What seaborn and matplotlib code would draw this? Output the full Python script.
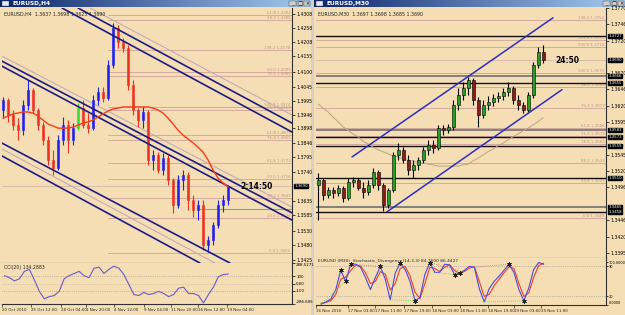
import numpy as np
import matplotlib
matplotlib.use("Agg")
import matplotlib.pyplot as plt
import matplotlib.transforms as mtransforms
from matplotlib.patches import Rectangle
from matplotlib.colors import LinearSegmentedColormap
import seaborn as sns

# ---------------- left window: EURUSD,H4 ----------------
left_open0 = 1.3963
left_close = [1.3999, 1.3945, 1.3909, 1.3891, 1.3981, 1.4035, 1.3963, 1.3909, 1.3855, 1.3784,
              1.3755, 1.3855, 1.3909, 1.3855, 1.3898, 1.3970, 1.3909, 1.3898, 1.3999, 1.4028,
              1.4006, 1.4124, 1.4257, 1.4207, 1.4185, 1.4053, 1.3963, 1.3927, 1.3956, 1.3784,
              1.3802, 1.3748, 1.3791, 1.3712, 1.3622, 1.3712, 1.3730, 1.3640, 1.3604, 1.3622,
              1.3479, 1.3497, 1.3551, 1.3622, 1.3640, 1.3690]
left_high = [1.4010, 1.4006, 1.3963, 1.3934, 1.3999, 1.4071, 1.4042, 1.3970, 1.3920, 1.3870,
             1.3820, 1.3873, 1.3938, 1.3927, 1.3916, 1.3988, 1.3999, 1.3952, 1.4017, 1.4046,
             1.4046, 1.4142, 1.4275, 1.4268, 1.4221, 1.4196, 1.4071, 1.3970, 1.3974, 1.3963,
             1.3820, 1.3812, 1.3809, 1.3802, 1.3719, 1.3730, 1.3748, 1.3741, 1.3658, 1.3640,
             1.3640, 1.3511, 1.3561, 1.3640, 1.3658, 1.3694]
left_low = [1.3934, 1.3920, 1.3891, 1.3855, 1.3873, 1.3963, 1.3952, 1.3891, 1.3838, 1.3766,
            1.3730, 1.3748, 1.3838, 1.3809, 1.3838, 1.3891, 1.3898, 1.3881, 1.3891, 1.3981,
            1.3992, 1.3999, 1.4114, 1.4185, 1.4171, 1.4035, 1.3945, 1.3902, 1.3898, 1.3766,
            1.3748, 1.3737, 1.3730, 1.3694, 1.3594, 1.3612, 1.3676, 1.3604, 1.3579, 1.3568,
            1.3461, 1.3454, 1.3479, 1.3540, 1.3597, 1.3622]
left_green_bar = 15
left_ma = [1.3934, 1.3941, 1.3949, 1.3952, 1.3956, 1.3956, 1.3952, 1.3941, 1.3927, 1.3913,
           1.3906, 1.3898, 1.3898, 1.3898, 1.3902, 1.3909, 1.3916, 1.3920, 1.3927, 1.3938,
           1.3949, 1.3959, 1.3967, 1.3970, 1.3974, 1.3974, 1.3974, 1.3974, 1.3974, 1.3974,
           1.3970, 1.3963, 1.3952, 1.3934, 1.3913, 1.3891, 1.3873, 1.3859, 1.3845, 1.3830,
           1.3812, 1.3784, 1.3748, 1.3719, 1.3701, 1.3687]
left_cci = [111, 82, 38, 67, 171, 200, 53, -109, -213, -183,
            -168, -109, 67, 111, 141, 171, 111, 82, 215, 230,
            141, 200, 244, 215, 126, -12, -154, -168, -124, -154,
            -139, -109, -139, -183, -154, -65, -50, -139, -139, -168,
            -272, -154, -50, 97, 126, 134]
left_cci_last = 134.2883
left_cci_ticks = [288.5271, 100, 0, -100, -286.605]
left_cci_tick_labels = ["288.5271", "100", "0.00", "-100", "-286.605"]
left_time_pos = [-0.5, 5.4, 11.4, 16.4, 22, 28, 33.4, 39, 44.8]
left_time_labels = ["20 Oct 2010", "25 Oct 12:00", "28 Oct 04:00", "1 Nov 20:00", "4 Nov 12:00",
                    "9 Nov 04:00", "11 Nov 20:00", "16 Nov 12:00", "19 Nov 04:00"]
left_price_ticks = [1.4308, 1.4258, 1.4208, 1.4155, 1.4100, 1.4045, 1.3995, 1.3946, 1.3898,
                    1.3846, 1.3795, 1.3740, 1.3635, 1.3585, 1.3530, 1.3480, 1.3425]
left_fib_prices = [1.4304, 1.4286, 1.4178, 1.4099, 1.4085, 1.3974, 1.3963, 1.3873, 1.3855,
                   1.3773, 1.3716, 1.3647, 1.3576, 1.3450]
left_fib_names = ["61.8", "38.2", "138.2", "50.0", "76.4", "100.0", "38.2", "61.8", "76.4",
                  "61.8", "50.0", "38.2", "23.6", "0.0"]
left_fib_start = 21
# channel lines: (bar0, price0, bar1, price1)
left_channel_dark = [(15.0, 1.4329, 57.8, 1.3916), (11.8, 1.4329, 57.8, 1.3884),
                     (-0.6, 1.4142, 57.8, 1.3594), (-0.6, 1.4124, 57.8, 1.3568),
                     (-0.6, 1.3848, 45.4, 1.3414), (-0.6, 1.3802, 39.4, 1.3414)]
left_channel_pale = [(17.4, 1.4329, 57.8, 1.3945), (-0.6, 1.4160, 57.8, 1.3615),
                     (-0.6, 1.3827, 42.4, 1.3414)]
left_cyan_start, left_cyan_price = 39, 1.3608
left_bid = 1.3690
left_header = "EURUSD,H4  1.3637 1.3698 1.3625 1.3690"
left_timer = "2:14:50"

# ---------------- right window: EURUSD,M30 ----------------
right_open0 = 1.3499
right_close = [1.3507, 1.3484, 1.3491, 1.3487, 1.3494, 1.3479, 1.3504, 1.3507, 1.3494, 1.3488,
               1.3499, 1.3519, 1.3499, 1.3468, 1.3491, 1.3545, 1.3553, 1.3537, 1.3522, 1.3530,
               1.3537, 1.3553, 1.3560, 1.3556, 1.3586, 1.3583, 1.3588, 1.3622, 1.3637, 1.3648,
               1.3660, 1.3629, 1.3606, 1.3622, 1.3626, 1.3632, 1.3635, 1.3641, 1.3648, 1.3629,
               1.3622, 1.3614, 1.3637, 1.3683, 1.3703, 1.3690]
right_high = [1.3517, 1.3510, 1.3496, 1.3496, 1.3499, 1.3498, 1.3510, 1.3511, 1.3510, 1.3504,
              1.3507, 1.3525, 1.3522, 1.3502, 1.3494, 1.3550, 1.3563, 1.3557, 1.3545, 1.3537,
              1.3542, 1.3557, 1.3568, 1.3568, 1.3591, 1.3591, 1.3592, 1.3629, 1.3648, 1.3657,
              1.3664, 1.3663, 1.3634, 1.3629, 1.3635, 1.3638, 1.3641, 1.3648, 1.3657, 1.3651,
              1.3637, 1.3626, 1.3641, 1.3687, 1.3710, 1.3713]
right_low = [1.3445, 1.3476, 1.3479, 1.3479, 1.3482, 1.3473, 1.3476, 1.3496, 1.3491, 1.3479,
             1.3484, 1.3494, 1.3491, 1.3459, 1.3464, 1.3488, 1.3537, 1.3533, 1.3514, 1.3510,
             1.3522, 1.3533, 1.3545, 1.3548, 1.3553, 1.3576, 1.3579, 1.3583, 1.3614, 1.3629,
             1.3637, 1.3622, 1.3588, 1.3602, 1.3614, 1.3620, 1.3626, 1.3629, 1.3635, 1.3623,
             1.3614, 1.3609, 1.3611, 1.3632, 1.3678, 1.3686]
right_ma = [1.3623, 1.3617, 1.3611, 1.3603, 1.3596, 1.3588, 1.3583, 1.3577, 1.3573, 1.3566,
            1.3562, 1.3557, 1.3553, 1.3550, 1.3547, 1.3543, 1.3542, 1.3539, 1.3537, 1.3536,
            1.3534, 1.3533, 1.3531, 1.3530, 1.3528, 1.3528, 1.3528, 1.3528, 1.3528, 1.3530,
            1.3531, 1.3536, 1.3540, 1.3545, 1.3550, 1.3554, 1.3559, 1.3563, 1.3568, 1.3573,
            1.3577, 1.3582, 1.3586, 1.3591, 1.3596, 1.3602]
right_stoch_main = [2, 7, 14, 36, 81, 55, 95, 95, 88, 64, 36, 64, 90, 60, 12, 74, 98, 83, 55, 10,
                    17, 71, 99, 76, 76, 95, 93, 71, 74, 81, 90, 88, 38, 7, 38, 55, 67, 81, 95, 76,
                    36, 10, 40, 83, 99, 95]
right_stoch_signal = [4, 6, 10, 25, 60, 65, 80, 93, 91, 75, 50, 55, 78, 72, 35, 50, 85, 90, 68, 30,
                      15, 50, 88, 85, 78, 88, 94, 80, 74, 78, 86, 89, 55, 20, 25, 45, 60, 75, 89, 85,
                      50, 20, 28, 65, 92, 97]
right_stoch_ticks = [100, 90, 20, 0]
right_stoch_tick_labels = ["100.0000", "90", "20", "0.0000"]
stoch_mark_bar = [4, 5, 6, 12, 16, 19, 22, 27, 28, 38, 41]
stoch_mark_val = [81, 55, 95, 90, 98, 10, 99, 71, 74, 95, 10]
stoch_div_top = [((6, 95), (12, 90)), ((22, 99), (28, 80)), ((31, 88), (38, 95))]
stoch_div_bottom = [((0, 2), (5, 55)), ((14, 12), (19, 10)), ((33, 7), (41, 10)), ((23, 76), (27, 71))]
right_time_pos = [-1, 5.4, 11, 16.8, 22.4, 28, 33.8, 39, 44.4]
right_time_labels = ["16 Nov 2010", "17 Nov 03:00", "17 Nov 11:00", "17 Nov 19:00", "18 Nov 03:00",
                     "18 Nov 11:00", "18 Nov 19:00", "19 Nov 03:00", "19 Nov 11:00"]
right_price_ticks = [1.3770, 1.3746, 1.3720, 1.3670, 1.3646, 1.3620, 1.3595, 1.3545, 1.3520,
                     1.3496, 1.3446, 1.3420, 1.3395]
right_fib_prices = [1.3752, 1.3721, 1.3710, 1.3671, 1.3649, 1.3617, 1.3586, 1.3574, 1.3562,
                    1.3533, 1.3502, 1.3449]
right_fib_names = ["138.2", "123.6", "100.0", "100.0", "38.2", "76.4", "61.8", "71.6", "78.6",
                   "88.2", "23.6", "0.0"]
right_sr_prices = [1.3727, 1.3666, 1.3655, 1.3583, 1.3573, 1.3559, 1.3510, 1.3465, 1.3458]
right_sr_dark = [True, False, True, False, True, True, True, False, True]
right_channel = [(6.8, 1.3542, 47.0, 1.3755), (13.8, 1.3458, 48.8, 1.3645)]
right_bid = 1.3690
right_header = "EURUSD,M30  1.3697 1.3698 1.3685 1.3690"
right_timer = "24:50"
right_stoch_label = "EURUSD (M30)  Stochastic_Divergence(14,3,3) 84.7600 86.4427"

# ---------------- styling ----------------
WHEAT = "#F5DEB3"
FRAME = "#D4D0C8"
FIB = "#CFA29A"
FIBTXT = "#C4958C"
TICK_FS = 3.3

sns.set_style("white")
plt.rcParams['font.family'] = ['DejaVu Sans']

W, H = 625, 315
fig = plt.figure(figsize=(W / 100, H / 100), dpi=100)
fig.patch.set_facecolor(FRAME)


def px_axes(x0, y0, x1, y1):
    return fig.add_axes([x0 / W, 1 - y1 / H, (x1 - x0) / W, (y1 - y0) / H])


def px_rect(x0, y0, x1, y1, color, z=0):
    fig.add_artist(Rectangle((x0 / W, 1 - y1 / H), (x1 - x0) / W, (y1 - y0) / H,
                             transform=fig.transFigure, fc=color, ec='none', zorder=z))


def style(ax, xlim, ylim):
    ax.set_facecolor(WHEAT)
    ax.set_xlim(*xlim)
    ax.set_ylim(*ylim)
    for s in ['left', 'top']:
        ax.spines[s].set_visible(False)
    for s in ['right', 'bottom']:
        ax.spines[s].set_visible(True)
        ax.spines[s].set_color('#303030')
        ax.spines[s].set_linewidth(0.8)
    ax.yaxis.tick_right()
    ax.tick_params(axis='y', length=2, width=0.5, labelsize=TICK_FS, pad=1, colors='black')
    ax.tick_params(axis='x', bottom=False, labelbottom=False)
    ax.set_xlabel('')
    ax.set_ylabel('')


def title_bar(x0, x1, text):
    tax = px_axes(x0, 0, x1, 7)
    cmap = LinearSegmentedColormap.from_list('tb', ['#0A246A', '#A6CAF0'])
    tax.imshow(np.linspace(0, 1, 256)[None, :], aspect='auto', cmap=cmap, extent=(0, 1, 0, 1))
    tax.set_xlim(0, 1)
    tax.set_ylim(0, 1)
    tax.axis('off')
    tax.text(0.04, 0.5, text, color='white', fontsize=4.2, fontweight='bold', va='center', ha='left')
    tax.add_patch(Rectangle((0.008, 0.15), 0.022, 0.7, fc='#E8E8F0', ec='#404060', lw=0.3))
    w = (x1 - x0)
    for k, sym in enumerate(['_', '□', '×']):
        bx = 1 - (3 - k) * 7.2 / w
        tax.add_patch(Rectangle((bx, 0.08), 6.4 / w, 0.84, fc=FRAME, ec='#404040', lw=0.3))
        tax.text(bx + 3.2 / w, 0.5, sym, fontsize=3.5, ha='center', va='center', color='black')


def candles(ax, open0, close, high, low, up, down, wick=None, edge=None, width=0.6, special=None):
    close = np.asarray(close)
    opens = np.concatenate([[open0], close[:-1]])
    idx = np.arange(len(close))
    bull = close >= opens
    cols = np.where(bull, up, down).astype(object)
    if special is not None:
        cols[special[0]] = special[1]
    wick_cols = list(cols) if wick is None else wick
    ax.vlines(idx, low, high, colors=wick_cols, lw=0.8, zorder=3)
    bottoms = np.minimum(opens, close)
    heights = np.maximum(np.abs(close - opens), 0.00008)
    ax.bar(idx, heights, bottom=bottoms, width=width, color=list(cols),
           edgecolor=(edge if edge else list(cols)), linewidth=0.4, zorder=4)


def price_box(ax, price, text):
    tr = mtransforms.blended_transform_factory(ax.transAxes, ax.transData)
    ax.text(1.008, price, text, transform=tr, fontsize=2.8, color='white', va='center', ha='left',
            bbox=dict(boxstyle='square,pad=0.02', fc='black', ec='black'), clip_on=False, zorder=20)


def fib_lines(ax, prices, names, start, xmax):
    for p, n in zip(prices, names):
        ax.plot([start, xmax], [p, p], color=FIB, lw=0.6, zorder=1)
        ax.text(xmax - 0.3, p, f"{n} {p:.4f}", fontsize=2.9, color=FIBTXT, ha='right', va='bottom',
                zorder=2)


# window backgrounds
px_rect(0, 7, 311, 315, WHEAT)
px_rect(314, 7, 625, 315, WHEAT)
title_bar(0, 311, "EURUSD,H4")
title_bar(314, 625, "EURUSD,M30")

# ---------------- left main ----------------
L_XLIM = (-0.2, 57.8)
axL = px_axes(2, 8, 292, 263)
style(axL, L_XLIM, (1.34142, 1.43289))
fib_lines(axL, left_fib_prices, left_fib_names, left_fib_start, L_XLIM[1])
axL.axhline(left_bid, color='#C9AFA8', lw=0.5, zorder=1)
for (a0, p0, a1, p1) in left_channel_pale:
    axL.plot([a0, a1], [p0, p1], color='#B9A6B8', lw=0.7, zorder=2)
for (a0, p0, a1, p1) in left_channel_dark:
    axL.plot([a0, a1], [p0, p1], color='#1C1C86', lw=1.2, zorder=5)
axL.plot([left_cyan_start, L_XLIM[1]], [left_cyan_price, left_cyan_price], color='#3FBFBF', lw=0.8, zorder=2)
candles(axL, left_open0, left_close, left_high, left_low, '#2020F0', '#F03020', width=0.5,
        special=(left_green_bar, '#30E030'))
sns.lineplot(x=np.arange(len(left_ma)), y=left_ma, ax=axL, color='#FF3A18', lw=1.0, legend=False, zorder=6)
axL.set_xlabel('')
axL.set_ylabel('')
axL.set_yticks(left_price_ticks)
axL.set_yticklabels([f"{v:.4f}" for v in left_price_ticks])
axL.text(0.008, 0.985, left_header, transform=axL.transAxes, fontsize=3.4, va='top', ha='left')
axL.text(47.4, left_bid, left_timer, fontsize=5.5, fontweight='bold', color='black', va='center',
         ha='left', zorder=8)
price_box(axL, left_bid, f"{left_bid:.4f}")

# ---------------- left CCI ----------------
axC = px_axes(2, 263, 292, 304)
style(axC, L_XLIM, (left_cci_ticks[-1], left_cci_ticks[0]))
axC.axhline(100, color='#909090', lw=0.5, ls=':')
axC.axhline(-100, color='#909090', lw=0.5, ls=':')
axC.axhline(0, color='#A8A0A0', lw=0.4, ls=':')
sns.lineplot(x=np.arange(len(left_cci)), y=left_cci, ax=axC, color='#6A5ACD', lw=0.8, legend=False)
axC.set_xlabel('')
axC.set_ylabel('')
axC.set_yticks(left_cci_ticks)
axC.set_yticklabels(left_cci_tick_labels)
axC.tick_params(axis='y', labelsize=2.9)
axC.get_yticklabels()[0].set_va('top')
axC.get_yticklabels()[-1].set_va('bottom')
axC.set_xticks(left_time_pos)
axC.set_xticklabels(left_time_labels, ha='left')
axC.tick_params(axis='x', bottom=True, labelbottom=True, length=2, width=0.5, labelsize=2.9, pad=1)
axC.text(0.008, 0.96, f"CCI(20) {left_cci_last:.4f}", transform=axC.transAxes, fontsize=3.3,
         va='top', ha='left')

# ---------------- right main ----------------
R_XLIM = (-0.4, 57.6)
axR = px_axes(316, 8, 606, 258)
style(axR, R_XLIM, (1.33873, 1.37700))
fib_lines(axR, right_fib_prices, right_fib_names, R_XLIM[0], R_XLIM[1])
axR.axhline(right_bid, color='#C9AFA8', lw=0.5, zorder=1)
for p, dark in zip(right_sr_prices, right_sr_dark):
    axR.axhline(p, color=('#101010' if dark else '#707070'), lw=(1.0 if dark else 1.2), zorder=2)
sns.lineplot(x=np.arange(len(right_ma)), y=right_ma, ax=axR, color='#B8A488', lw=0.7, legend=False)
axR.set_xlabel('')
axR.set_ylabel('')
for (a0, p0, a1, p1) in right_channel:
    axR.plot([a0, a1], [p0, p1], color='#2E2EC0', lw=1.1, zorder=5)
candles(axR, right_open0, right_close, right_high, right_low, '#24A024', '#8E1A1A',
        wick='black', edge='black', width=0.6)
axR.set_yticks(right_price_ticks)
axR.set_yticklabels([f"{v:.4f}" for v in right_price_ticks])
axR.text(0.008, 0.985, right_header, transform=axR.transAxes, fontsize=3.4, va='top', ha='left')
axR.text(47.4, right_bid, right_timer, fontsize=5.5, fontweight='bold', color='black', va='center',
         ha='left', zorder=8)
for p in right_sr_prices:
    price_box(axR, p, f"{p:.4f}")
price_box(axR, right_bid, f"{right_bid:.4f}")

# ---------------- right stochastic ----------------
axS = px_axes(316, 258, 606, 305)
style(axS, R_XLIM, (0, 109.5))
axS.axhline(90, color='#909090', lw=0.5, ls=':')
axS.axhline(20, color='#909090', lw=0.5, ls=':')
sidx = np.arange(len(right_stoch_main))
sns.lineplot(x=sidx, y=right_stoch_signal, ax=axS, color='#F04030', lw=0.8, legend=False)
sns.lineplot(x=sidx, y=right_stoch_main, ax=axS, color='#4848E0', lw=0.8, legend=False)
axS.set_xlabel('')
axS.set_ylabel('')
for (a, b) in stoch_div_top:
    axS.plot([a[0], b[0]], [a[1], b[1]], color='#B07050', lw=0.6, ls=':')
for (a, b) in stoch_div_bottom:
    axS.plot([a[0], b[0]], [a[1], b[1]], color='#50D060', lw=0.6, ls=':')
sns.scatterplot(x=stoch_mark_bar, y=stoch_mark_val, ax=axS, marker=(6, 2, 0), s=9, color='#202020',
                linewidth=0.5, legend=False, zorder=6)
axS.set_xlabel('')
axS.set_ylabel('')
axS.set_yticks(right_stoch_ticks)
axS.set_yticklabels(right_stoch_tick_labels)
axS.tick_params(axis='y', labelsize=2.5, pad=0.5, length=1.5)
axS.get_yticklabels()[-1].set_va('bottom')
axS.set_xticks(right_time_pos)
axS.set_xticklabels(right_time_labels, ha='left')
axS.tick_params(axis='x', bottom=True, labelbottom=True, length=2, width=0.5, labelsize=2.9, pad=1)
axS.text(0.008, 0.97, right_stoch_label, transform=axS.transAxes, fontsize=3.2, va='top', ha='left')

fig.savefig("out.png", dpi=100, facecolor=fig.get_facecolor())
